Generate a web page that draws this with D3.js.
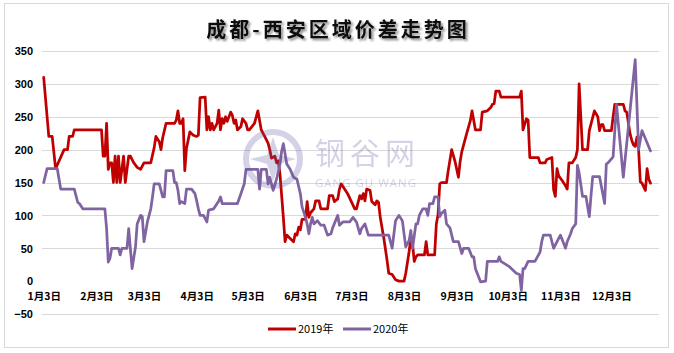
<!DOCTYPE html>
<html><head><meta charset="utf-8">
<script src="https://cdn.jsdelivr.net/npm/d3@7/dist/d3.min.js"></script>
<style>
html,body{margin:0;padding:0;background:#fff;}
svg{display:block;}
</style></head>
<body>
<svg id="chart" width="674" height="353"></svg>
<script>
const title = "成都-西安区域价差走势图";
const seriesNames = ["2019年", "2020年"];
const seriesColors = ["#C00000", "#8064A2"];
const yTicks = [-50, 0, 50, 100, 150, 200, 250, 300, 350];
const xTickDates = ["01-03","02-03","03-03","04-03","05-03","06-03","07-03","08-03","09-03","10-03","11-03","12-03"];

const dates2019 = ["01-03","01-06","01-08","01-10","01-15","01-17","01-18","01-20","01-21","02-06","02-07","02-08","02-09","02-10","02-11","02-12","02-13","02-14","02-15","02-16","02-17","02-19","02-20","02-22","02-23","02-25","02-27","03-01","03-02","03-03","03-07","03-09","03-10","03-12","03-13","03-14","03-16","03-21","03-22","03-23","03-24","03-25","03-26","03-27","03-28","03-30","04-01","04-03","04-04","04-05","04-08","04-09","04-10","04-11","04-12","04-13","04-15","04-16","04-17","04-18","04-19","04-20","04-21","04-23","04-24","04-25","04-26","04-27","04-29","04-30","05-02","05-03","05-04","05-07","05-09","05-11","05-13","05-15","05-16","05-17","05-19","05-20","05-21","05-22","05-24","05-25","05-26","05-28","05-30","05-31","06-01","06-02","06-03","06-04","06-06","06-07","06-08","06-09","06-11","06-12","06-14","06-15","06-19","06-20","06-22","06-23","06-25","06-26","06-27","06-29","07-01","07-03","07-05","07-06","07-08","07-09","07-10","07-11","07-12","07-14","07-15","07-17","07-18","07-19","07-20","07-21","07-22","07-24","07-25","07-27","07-29","07-31","08-03","08-04","08-06","08-07","08-08","08-09","08-10","08-11","08-15","08-16","08-17","08-21","08-22","08-23","08-24","08-25","08-28","08-29","08-31","09-02","09-04","09-05","09-06","09-09","09-11","09-12","09-14","09-17","09-18","09-21","09-23","09-24","09-25","09-26","09-28","09-29","10-10","10-11","10-12","10-14","10-15","10-16","10-21","10-22","10-25","10-26","10-29","10-30","10-31","11-01","11-02","11-04","11-06","11-07","11-08","11-10","11-12","11-13","11-14","11-16","11-19","11-20","11-23","11-25","11-26","11-27","11-28","11-29","12-03","12-04","12-05","12-10","12-11","12-12","12-14","12-15","12-16","12-17","12-18","12-19","12-20","12-21","12-23","12-24","12-25","12-26"];
const values2019 = [310,220,220,171,200,200,220,220,230,230,190,190,240,170,180,180,150,190,150,190,150,190,150,190,190,180,173,170,175,180,180,203,220,212,200,218,240,240,245,259,240,240,247,168,202,227,222,220,222,279,280,230,250,230,240,230,240,260,230,247,240,250,243,257,252,240,245,230,235,247,240,230,230,240,259,230,220,210,200,187,190,180,183,163,97,60,70,65,60,72,70,82,78,94,94,121,97,104,110,122,122,110,110,130,130,121,125,140,148,140,132,121,110,110,130,125,133,122,140,138,121,116,122,120,97,82,67,32,12,10,2,0,0,12,45,65,57,30,37,40,40,60,40,40,87,101,148,150,150,168,200,182,158,182,197,226,244,259,230,230,257,259,264,269,270,289,289,280,280,289,230,247,245,188,188,180,180,185,188,139,129,171,160,153,145,140,180,180,188,200,300,200,200,229,259,250,229,238,238,229,229,250,269,269,259,257,224,214,207,205,219,200,151,149,138,171,155,149];

const dates2020 = ["01-03","01-05","01-11","01-13","01-21","01-23","01-24","01-26","02-08","02-09","02-10","02-11","02-12","02-16","02-17","02-18","02-21","02-22","02-24","02-26","02-27","03-01","03-02","03-03","03-05","03-06","03-07","03-08","03-09","03-12","03-13","03-14","03-15","03-16","03-20","03-21","03-22","03-23","03-24","03-25","03-27","03-28","03-31","04-02","04-03","04-04","04-05","04-07","04-09","04-10","04-13","04-16","04-17","04-18","04-27","04-29","05-01","05-02","05-09","05-10","05-11","05-14","05-15","05-16","05-18","05-20","05-22","05-23","05-24","05-26","05-28","05-30","06-01","06-03","06-04","06-06","06-07","06-08","06-09","06-10","06-11","06-13","06-15","06-17","06-19","06-21","06-22","06-25","06-26","06-28","07-02","07-04","07-06","07-08","07-09","07-11","07-13","07-25","07-27","07-29","07-31","08-02","08-04","08-06","08-07","08-08","08-10","08-11","08-12","08-14","08-16","08-17","08-18","08-20","08-21","08-23","08-24","08-25","08-27","08-28","08-30","09-01","09-04","09-06","09-07","09-10","09-12","09-13","09-14","09-17","09-20","09-21","09-27","09-28","09-29","10-04","10-08","10-10","10-11","10-12","10-13","10-15","10-19","10-22","10-23","10-24","10-28","10-30","11-01","11-03","11-06","11-07","11-09","11-10","11-12","11-13","11-14","11-16","11-18","11-20","11-21","11-22","11-26","11-29","11-30","12-01","12-04","12-06","12-10","12-17","12-19","12-21","12-26"];
const values2020 = [150,171,171,140,140,120,118,110,110,80,29,35,50,50,40,50,50,80,19,52,87,100,98,60,90,100,110,128,148,148,138,128,128,168,168,150,150,138,118,121,118,140,140,133,122,110,100,100,90,108,110,122,128,118,118,133,148,170,170,140,170,170,148,158,138,155,178,198,209,178,170,158,155,133,113,97,87,72,87,97,87,92,85,85,70,72,81,100,85,90,90,97,90,72,80,87,70,70,50,92,100,92,52,62,77,50,87,87,100,110,110,100,118,118,128,128,98,103,108,87,81,60,60,42,50,50,37,37,19,-1,0,30,30,37,30,22,12,10,-14,19,19,30,30,44,60,70,70,50,60,70,50,60,72,80,87,176,165,129,129,98,130,159,159,118,178,180,189,269,158,337,200,229,198];

const baseYear = 2019;
const parseMD = s => { const [m, d] = s.split("-").map(Number); return new Date(baseYear, m - 1, d); };

const svg = d3.select("#chart");

// outer border
svg.append("rect").attr("x", 4.5).attr("y", 3.5).attr("width", 664).attr("height", 344)
  .attr("fill", "#fff").attr("stroke", "#d9d9d9").attr("stroke-width", 1);

const x = d3.scaleTime()
  .domain([new Date(baseYear, 0, 2), new Date(baseYear, 11, 31)])
  .range([42, 659]);
const y = d3.scaleLinear().domain([-50, 350]).range([314, 51]);

// defs: title shadow
const defs = svg.append("defs");
const f = defs.append("filter").attr("id", "shadow").attr("x", "-10%").attr("y", "-30%").attr("width", "120%").attr("height", "160%");
f.append("feDropShadow").attr("dx", 2).attr("dy", 2).attr("stdDeviation", 1.2).attr("flood-color", "#000").attr("flood-opacity", 0.45);

// title
svg.append("text").attr("x", 338).attr("y", 37).attr("text-anchor", "middle")
  .attr("font-family", "'Noto Sans CJK SC', sans-serif").attr("font-weight", 700)
  .attr("font-size", 20).attr("letter-spacing", 3).attr("fill", "#111")
  .attr("filter", "url(#shadow)").text(title);

// gridlines (no line at 0)
svg.append("g").attr("class", "grid")
  .selectAll("line").data(yTicks.filter(v => v !== 0)).join("line")
  .attr("x1", 42).attr("x2", 659)
  .attr("y1", d => Math.round(y(d)) + 0.5).attr("y2", d => Math.round(y(d)) + 0.5)
  .attr("stroke", "#d9d9d9").attr("stroke-width", 1);

const yAxis = d3.axisLeft(y).tickValues(yTicks).tickSize(0).tickPadding(0);
const gy = svg.append("g").attr("transform", "translate(33,0)").call(yAxis);
gy.select(".domain").remove();
gy.selectAll("text").attr("font-family", "'Liberation Sans Narrow','Liberation Sans',sans-serif")
  .attr("font-weight", 700).attr("font-size", 11).attr("fill", "#000").attr("dy", "0.35em").attr("x", 0);

// x axis labels
const xAxis = d3.axisBottom(x).tickValues(xTickDates.map(parseMD))
  .tickSize(0).tickPadding(0)
  .tickFormat(d => (d.getMonth() + 1) + "月" + d.getDate() + "日");
const gx = svg.append("g").attr("transform", "translate(0,296)").call(xAxis);
gx.select(".domain").remove();
gx.selectAll("text").attr("font-family", "'Liberation Sans Narrow','Noto Sans CJK SC',sans-serif")
  .attr("font-weight", 700).attr("font-size", 10.5).attr("fill", "#000").attr("dy", "0.35em").attr("y", 0);

// lines
const line = d3.line().x(d => x(d.date)).y(d => y(d.value)).curve(d3.curveLinear);
const s2019 = dates2019.map((d, i) => ({date: parseMD(d), value: values2019[i]}));
const s2020 = dates2020.map((d, i) => ({date: parseMD(d), value: values2020[i]}));
[s2019, s2020].forEach((s, i) => {
  svg.append("path").datum(s).attr("d", line).attr("fill", "none")
    .attr("stroke", seriesColors[i]).attr("stroke-width", 2.75)
    .attr("stroke-linejoin", "round").attr("stroke-linecap", "round");
});

// watermark
const wm = svg.append("g").attr("opacity", 0.26).attr("fill", "#5a56a0");
wm.append("circle").attr("cx", 273).attr("cy", 159).attr("r", 27).attr("fill", "none")
  .attr("stroke", "#5a56a0").attr("stroke-width", 6);
wm.append("path").attr("d", "M273,137 L279,155 L296,159 L279,164 L273,182 L267,164 L250,159 L267,155 Z");
wm.append("text").attr("x", 315).attr("y", 164).attr("font-family", "'Noto Sans CJK SC', sans-serif")
  .attr("font-size", 30).attr("textLength", 100).text("钢谷网");
wm.append("text").attr("x", 315).attr("y", 187).attr("font-family", "'Open Sans','DejaVu Sans',sans-serif")
  .attr("font-size", 11.5).attr("textLength", 101).text("GANG GU WANG");

// legend
const legendX = [268, 343];
seriesNames.forEach((n, i) => {
  const g = svg.append("g").attr("transform", `translate(${legendX[i]},329)`);
  g.append("line").attr("x1", 0).attr("x2", 28).attr("y1", 0).attr("y2", 0)
    .attr("stroke", seriesColors[i]).attr("stroke-width", 3);
  g.append("text").attr("x", 30).attr("y", 0).attr("dy", "0.35em")
    .attr("font-family", "'Liberation Sans Narrow','Noto Sans CJK SC',sans-serif")
    .attr("font-weight", 400).attr("font-size", 11).attr("fill", "#000").text(n);
});
</script>
</body></html>
